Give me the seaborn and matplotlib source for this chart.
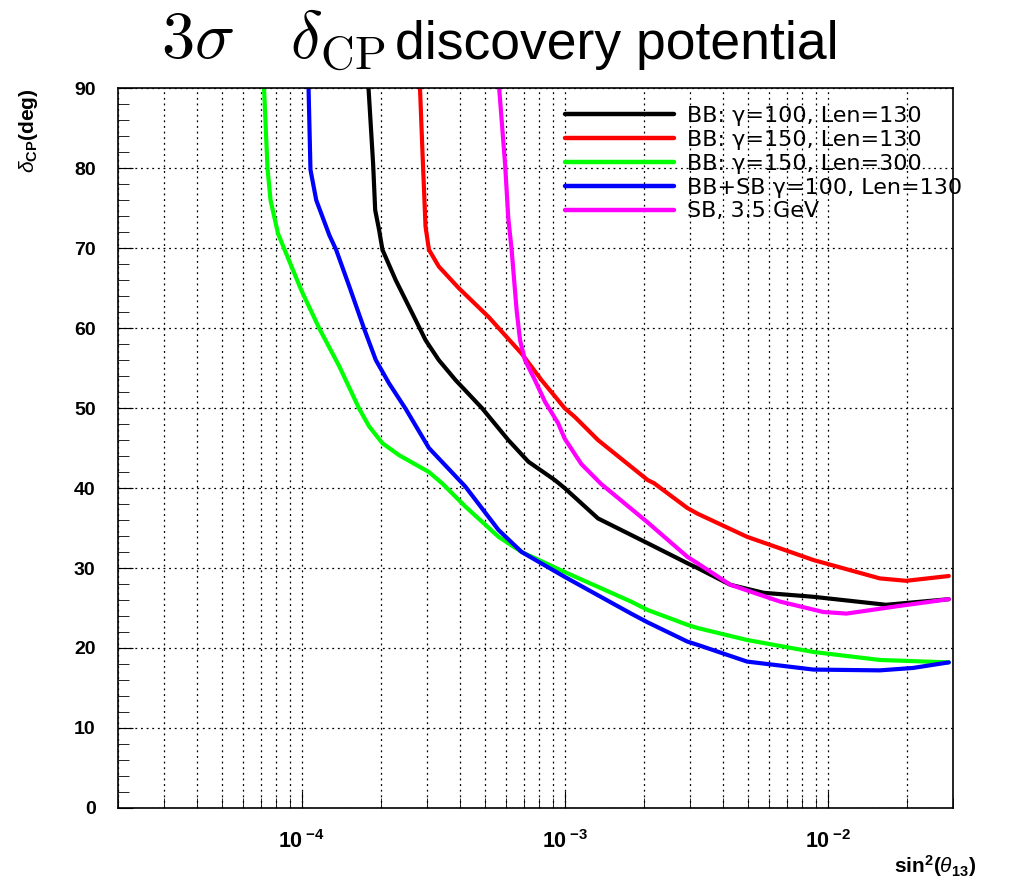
import numpy as np
import pandas as pd
import matplotlib
matplotlib.use("Agg")
import matplotlib.pyplot as plt
import seaborn as sns
from matplotlib.ticker import LogLocator, MultipleLocator, NullFormatter

# --- data (x = sin^2(theta13), y = delta_CP in deg) ---
bb100_x = [1.797e-4, 1.871e-4, 1.905e-4, 1.972e-4, 2.03e-4, 2.28e-4, 2.715e-4, 2.96e-4,
           3.325e-4, 3.85e-4, 4.85e-4, 6.11e-4, 7.28e-4, 9.18e-4, 1.0e-3, 1.34e-3,
           2.07e-3, 2.93e-3, 3.2e-3, 4.27e-3, 5.71e-3, 8.83e-3, 1.67e-2, 2.89e-2]
bb100_y = [90, 80.5, 74.75, 72.25, 69.8, 66.0, 61.0, 58.5,
           56.0, 53.5, 50.0, 46.0, 43.3, 41.0, 40.0, 36.2,
           33.1, 30.6, 30.0, 27.9, 26.9, 26.4, 25.4, 26.1]

bb150_x = [2.82e-4, 2.89e-4, 2.96e-4, 3.05e-4, 3.325e-4, 3.96e-4, 5.14e-4, 6.87e-4,
           8.17e-4, 1.0e-3, 1.093e-3, 1.34e-3, 2.07e-3, 2.19e-3, 2.93e-3, 3.2e-3,
           4.94e-3, 8.83e-3, 1.58e-2, 1.99e-2, 2.89e-2]
bb150_y = [90, 81, 72.7, 69.8, 67.7, 65.0, 61.4, 56.8,
           53.5, 50.0, 48.9, 46.0, 41.0, 40.6, 37.5, 36.8,
           33.9, 31.0, 28.7, 28.4, 29.0]

bb150l_x = [7.2e-5, 7.42e-5, 7.62e-5, 8.14e-5, 8.62e-5, 9.97e-5, 1.17e-4, 1.392e-4,
            1.657e-4, 1.807e-4, 2.03e-4, 2.35e-4, 3.05e-4, 3.42e-4, 4.19e-4, 5.61e-4,
            6.87e-4, 1.0e-3, 1.79e-3, 2.07e-3, 2.93e-3, 3.2e-3, 4.94e-3, 8.83e-3,
            1.58e-2, 2.89e-2]
bb150l_y = [90, 80, 76.0, 71.8, 69.8, 64.75, 59.9, 55.2,
            49.9, 47.7, 45.6, 44.1, 42.0, 40.6, 37.7, 33.9,
            32.0, 29.5, 25.8, 24.75, 22.9, 22.5, 21.0, 19.5,
            18.5, 18.2]

bbsb_x = [1.063e-4, 1.081e-4, 1.137e-4, 1.276e-4, 1.353e-4, 1.519e-4, 1.73e-4, 1.916e-4,
          2.15e-4, 2.488e-4, 3.05e-4, 4.19e-4, 5.61e-4, 6.87e-4, 1.0e-3, 1.79e-3,
          2.07e-3, 2.93e-3, 3.2e-3, 4.94e-3, 8.83e-3, 1.58e-2, 2.11e-2, 2.89e-2]
bbsb_y = [90, 79.8, 76.0, 71.6, 69.8, 65.2, 59.9, 56.0,
          53.1, 49.9, 45.0, 40.2, 34.75, 32.0, 28.9, 24.3,
          23.2, 20.8, 20.4, 18.3, 17.3, 17.2, 17.5, 18.2]

sb_x = [5.64e-4, 5.94e-4, 6.11e-4, 6.29e-4, 6.57e-4, 6.77e-4, 7.07e-4, 7.71e-4,
        8.42e-4, 9.45e-4, 1.0e-3, 1.158e-3, 1.378e-3, 2.07e-3, 2.93e-3, 3.2e-3,
        4.27e-3, 6.6e-3, 9.63e-3, 1.18e-2, 1.82e-2, 2.89e-2]
sb_y = [90, 80.5, 73.7, 69.8, 62.25, 58.5, 56.0, 53.5,
        50.8, 48.1, 46.2, 43.0, 40.5, 35.7, 31.4, 30.6,
        27.9, 25.8, 24.5, 24.3, 25.2, 26.1]

labels = ["BB: γ=100, Len=130", "BB: γ=150, Len=130", "BB: γ=150, Len=300",
          "BB+SB γ=100, Len=130", "SB, 3.5 GeV"]
colors = ["#000000", "#ff0000", "#00ff00", "#0000ff", "#ff00ff"]

frames = []
for lab, xs, ys in zip(labels,
                       [bb100_x, bb150_x, bb150l_x, bbsb_x, sb_x],
                       [bb100_y, bb150_y, bb150l_y, bbsb_y, sb_y]):
    frames.append(pd.DataFrame({"s2": xs, "dcp": ys, "set": lab}))
df = pd.concat(frames, ignore_index=True)

sns.set_style("white")
plt.rcParams["font.family"] = ["Liberation Sans", "DejaVu Sans"]
plt.rcParams["mathtext.fontset"] = "custom"
plt.rcParams["mathtext.rm"] = "Liberation Sans"
plt.rcParams["mathtext.it"] = "Liberation Sans:italic"
plt.rcParams["mathtext.bf"] = "Liberation Sans:bold"
plt.rcParams["text.color"] = "black"
plt.rcParams["xtick.color"] = "black"
plt.rcParams["ytick.color"] = "black"
plt.rcParams["axes.edgecolor"] = "black"

fig = plt.figure(figsize=(10.15, 8.82), dpi=100)
ax = fig.add_axes([0.116, 0.084, 0.823, 0.816])

sns.lineplot(data=df, x="s2", y="dcp", hue="set", hue_order=labels,
             palette=dict(zip(labels, colors)), linewidth=3,
             estimator=None, sort=False, ax=ax)

ax.set_xscale("log")
ax.set_xlim(2e-5, 3e-2)
ax.set_ylim(0, 90)

ax.set_xticks([1e-4, 1e-3, 1e-2])
ax.set_xticklabels([r"$\mathbf{10}^{\;\mathbf{-4}}$", r"$\mathbf{10}^{\;\mathbf{-3}}$",
                    r"$\mathbf{10}^{\;\mathbf{-2}}$"], fontsize=15.5)
ax.xaxis.set_minor_locator(LogLocator(base=10, subs=np.arange(2, 10), numticks=20))
ax.xaxis.set_minor_formatter(NullFormatter())
ax.yaxis.set_major_locator(MultipleLocator(10))
ax.yaxis.set_minor_locator(MultipleLocator(2))
for t in ax.get_yticklabels():
    t.set_fontweight("bold")
    t.set_fontsize(14)

ax.tick_params(which="both", direction="in", top=False, right=False,
               bottom=True, left=True, color="black", labelcolor="black")
ax.tick_params(axis="x", which="major", length=12, pad=16)
ax.tick_params(axis="x", which="minor", length=7)
ax.tick_params(axis="y", which="major", length=11, pad=16)
ax.tick_params(axis="y", which="minor", length=8)

ax.grid(True, which="major", axis="both", ls=(0, (1.5, 3)), color="black", lw=0.9)
ax.grid(True, which="minor", axis="x", ls=(0, (1.5, 3)), color="black", lw=0.9)
for sp in ax.spines.values():
    sp.set_color("black")
    sp.set_linewidth(1.2)

ax.set_xlabel("")
ax.set_ylabel("")

leg = ax.legend(loc="upper left", bbox_to_anchor=(0.535, 0.975), frameon=False,
                prop={"family": "DejaVu Sans", "size": 16},
                handlelength=4.9, handletextpad=0.6,
                labelspacing=0.17, borderaxespad=0, borderpad=0)
for line in leg.get_lines():
    line.set_linewidth(3.2)
for t in leg.get_texts():
    t.set_color("black")

# title: math part in computer-modern, words in sans
fig.text(0.380, 0.933, r"$3\sigma\quad\delta_{\rm CP}$",
         ha="right", va="baseline", fontsize=48, math_fontfamily="cm")
fig.text(0.389, 0.933, "discovery potential",
         ha="left", va="baseline", fontsize=38.5)
fig.text(0.028, 0.900, r"$\delta_{\mathbf{CP}}$(deg)", rotation=90,
         ha="center", va="top", fontsize=15, fontweight="bold")
fig.text(0.962, 0.003, r"sin$^{\mathbf{2}}$($\theta_{\mathbf{13}}$)",
         ha="right", va="bottom", fontsize=15, fontweight="bold")

fig.savefig("out.png", dpi=100, facecolor="white")
